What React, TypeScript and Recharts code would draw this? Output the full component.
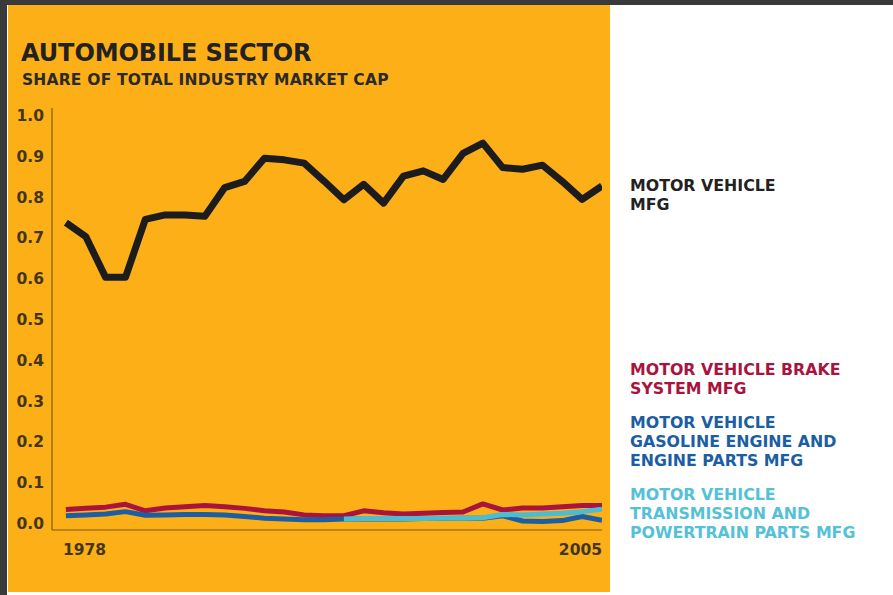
import React from 'react';
import { LineChart, Line, XAxis, YAxis } from 'recharts';

const years = [
  1978, 1979, 1980, 1981, 1982, 1983, 1984, 1985, 1986, 1987, 1988, 1989, 1990, 1991,
  1992, 1993, 1994, 1995, 1996, 1997, 1998, 1999, 2000, 2001, 2002, 2003, 2004, 2005,
];

// motor vehicle mfg
const motorVehicle = [
  0.736, 0.702, 0.602, 0.602, 0.744, 0.755, 0.755, 0.752, 0.822, 0.837, 0.894, 0.89, 0.882, 0.838,
  0.792, 0.83, 0.784, 0.85, 0.863, 0.842, 0.906, 0.931, 0.871, 0.867, 0.877, 0.837, 0.793, 0.826,
];

const brakeSystem = [
  0.033, 0.036, 0.039, 0.046, 0.03, 0.037, 0.04, 0.043, 0.04, 0.036, 0.03, 0.027, 0.02, 0.018,
  0.018, 0.03, 0.025, 0.022, 0.024, 0.026, 0.027, 0.047, 0.032, 0.037, 0.037, 0.04, 0.043, 0.043,
];

const gasolineEngine = [
  0.018, 0.02, 0.022, 0.028, 0.019, 0.02, 0.021, 0.021, 0.02, 0.016, 0.012, 0.01, 0.008, 0.008,
  0.01, 0.01, 0.01, 0.01, 0.011, 0.011, 0.012, 0.012, 0.018, 0.005, 0.004, 0.006, 0.016, 0.007,
];

// transmission series only starts in 1992
const transmission: (number | null)[] = [
  null, null, null, null, null, null, null, null, null, null, null, null, null, null,
  0.01, 0.011, 0.011, 0.011, 0.011, 0.012, 0.012, 0.013, 0.021, 0.02, 0.022, 0.024, 0.028, 0.034,
];

const yTicks = [0, 0.1, 0.2, 0.3, 0.4, 0.5, 0.6, 0.7, 0.8, 0.9, 1.0];
const xTicks = [1978, 2005];

const data = years.map((year, i) => ({
  year,
  motorVehicle: motorVehicle[i],
  brakeSystem: brakeSystem[i],
  gasolineEngine: gasolineEngine[i],
  transmission: transmission[i],
}));

const ORANGE = '#FDAF17';
const AXIS = '#7a5c12';
const TEXT = '#42361c';
const FONT = '"DejaVu Sans", "Open Sans", sans-serif';

const YTick = (props: any) => {
  const { x, y, payload } = props;
  return (
    <text x={x} y={y} dy={6} textAnchor="end" fill={TEXT} fontFamily={FONT} fontWeight={700} fontSize={15.5}>
      {payload.value.toFixed(1)}
    </text>
  );
};

const XTick = (props: any) => {
  const { x, y, payload } = props;
  const anchor = payload.value === 1978 ? 'start' : 'end';
  return (
    <text x={x - (payload.value === 1978 ? 3 : 0)} y={y} dy={17} textAnchor={anchor} fill={TEXT} fontFamily={FONT} fontWeight={700} fontSize={15.5}>
      {payload.value}
    </text>
  );
};

const labelStyle: React.CSSProperties = {
  position: 'absolute',
  left: 630,
  fontFamily: FONT,
  fontWeight: 700,
  fontSize: 15.8,
  lineHeight: '19px',
};

export default function App() {
  return (
    <div style={{ position: 'fixed', left: 0, top: 0, width: 893, height: 595, background: '#3a3a3a', overflow: 'hidden' }}>
      <div style={{ position: 'absolute', left: 7, top: 5, width: 886, height: 590, background: '#ffffff' }} />
      <div style={{ position: 'absolute', left: 8, top: 5, width: 602, height: 587, background: ORANGE }} />
      <div style={{ position: 'absolute', left: 21, top: 38, fontFamily: FONT, fontWeight: 700, fontSize: 24, lineHeight: '30px', color: '#222', letterSpacing: -0.1 }}>
        AUTOMOBILE SECTOR
      </div>
      <div style={{ position: 'absolute', left: 22, top: 70, fontFamily: FONT, fontWeight: 700, fontSize: 15.5, lineHeight: '20px', color: '#2a2a2a', letterSpacing: 0.2 }}>
        SHARE OF TOTAL INDUSTRY MARKET CAP
      </div>

      <div style={{ position: 'absolute', left: 0, top: 0 }}>
        <LineChart width={893} height={595} data={data} margin={{ top: 108, right: 291, bottom: 35, left: 8 }}>
          <XAxis
            dataKey="year"
            type="number"
            domain={[1977.3, 2005]}
            ticks={xTicks}
            tick={<XTick />}
            tickLine={false}
            axisLine={{ stroke: AXIS, strokeWidth: 1.2 }}
            height={30}
            interval={0}
            allowDataOverflow
          />
          <YAxis
            type="number"
            domain={[-0.017, 1.017]}
            ticks={yTicks}
            tick={<YTick />}
            tickLine={false}
            axisLine={{ stroke: AXIS, strokeWidth: 1.2 }}
            width={44}
            interval={0}
            allowDataOverflow
          />
          <Line dataKey="brakeSystem" stroke="#A8143E" strokeWidth={5} dot={false} isAnimationActive={false} strokeLinejoin="round" />
          <Line dataKey="gasolineEngine" stroke="#1B5EA3" strokeWidth={5} dot={false} isAnimationActive={false} strokeLinejoin="round" />
          <Line dataKey="transmission" stroke="#4BBCD2" strokeWidth={5} dot={false} isAnimationActive={false} strokeLinejoin="round" />
          <Line dataKey="motorVehicle" stroke="#1c1c1c" strokeWidth={7} dot={false} isAnimationActive={false} strokeLinejoin="round" />
        </LineChart>
      </div>

      <div style={{ ...labelStyle, top: 176, color: '#222' }}>
        MOTOR VEHICLE<br />MFG
      </div>
      <div style={{ ...labelStyle, top: 360, color: '#A8143E' }}>
        MOTOR VEHICLE BRAKE<br />SYSTEM MFG
      </div>
      <div style={{ ...labelStyle, top: 413, color: '#1B5EA3' }}>
        MOTOR VEHICLE<br />GASOLINE ENGINE AND<br />ENGINE PARTS MFG
      </div>
      <div style={{ ...labelStyle, top: 485, color: '#55C1D6' }}>
        MOTOR VEHICLE<br />TRANSMISSION AND<br />POWERTRAIN PARTS MFG
      </div>
    </div>
  );
}
